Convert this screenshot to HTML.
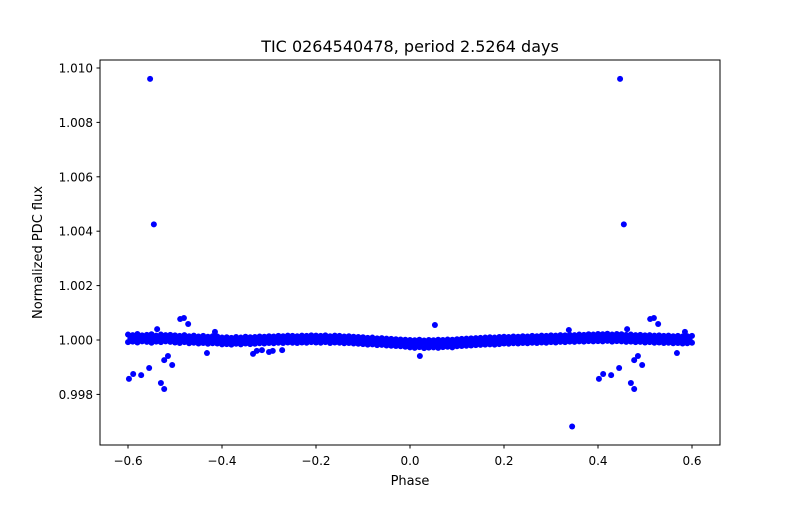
<!DOCTYPE html>
<html><head><meta charset="utf-8"><style>
body{margin:0;background:#fff}
text{font-family:"DejaVu Sans","Liberation Sans",sans-serif;fill:#000}
</style></head><body>
<svg id="chart" width="800" height="500" viewBox="0 0 800 500" xmlns="http://www.w3.org/2000/svg">
<rect width="800" height="500" fill="#fff"/>
<text x="410" y="52" text-anchor="middle" font-size="16">TIC 0264540478, period 2.5264 days</text>
<g id="marks"></g>
<g id="xticks"></g>
<g id="yticks"></g>
<rect x="100" y="60" width="620" height="385" fill="none" stroke="#000" stroke-width="1"/>
<text x="410" y="485" text-anchor="middle" font-size="13">Phase</text>
<text transform="translate(42,252.5) rotate(-90)" text-anchor="middle" font-size="13">Normalized PDC flux</text>
</svg>
<script>
const upperDev=[20,18,22,17,19,21,16,20,18,19,17,15,18,14,16,13,15,12,14,13,9,10,8,11,9,12,10,11,13,12,14,13,15,14,16,15,14,16,15,17,16,15,17,14,16,15,13,14,12,11,10,8,9,6,7,5,4,3,2,1,0,-1,1,-2,0,-1,1,0,2,1,3,4,5,6,7,8,9,10,9,11,12,11,13,12,14,13,15,14,16,15,17,16,18,17,19,18,20,19,21,20,22,21,23,20,22,21,19,20,18,19,17,18,16,17,15,16,14,15,13,14,15];
const lowerDev=[-8,-6,-9,-5,-7,-10,-6,-8,-5,-7,-9,-11,-8,-12,-10,-13,-11,-14,-12,-13,-16,-15,-17,-14,-16,-13,-15,-14,-12,-13,-11,-12,-10,-11,-9,-10,-11,-9,-10,-8,-9,-10,-8,-11,-9,-10,-12,-11,-13,-14,-15,-17,-16,-19,-18,-20,-21,-22,-23,-25,-27,-29,-26,-30,-28,-27,-29,-26,-25,-27,-23,-22,-21,-20,-19,-18,-17,-16,-17,-15,-13,-14,-12,-13,-11,-12,-10,-11,-9,-10,-8,-9,-7,-8,-6,-7,-5,-6,-4,-5,-4,-5,-3,-6,-4,-5,-7,-6,-8,-7,-9,-8,-10,-9,-11,-10,-12,-11,-13,-12,-10];
const midDev=[6,5,7,4,6,5,3,6,4,5,3,2,4,1,3,0,2,-1,1,0,-3,-2,-4,-1,-3,0,-2,-1,1,0,2,1,3,2,4,3,2,4,3,5,4,3,5,2,4,3,1,2,0,-1,-2,-4,-3,-6,-5,-7,-8,-9,-10,-12,-13,-14,-12,-15,-14,-13,-15,-12,-11,-13,-10,-9,-8,-7,-6,-5,-4,-3,-4,-2,-1,-1,0,0,1,0,2,1,3,2,4,3,5,4,6,5,7,6,8,7,9,8,10,7,9,8,6,7,5,6,4,5,3,4,2,3,1,2,0,1];
const outlierPhase=[-0.553,0.447,-0.545,0.455,0.345,0.053,-0.598,-0.589,-0.572,-0.555,-0.538,-0.530,-0.523,-0.523,-0.515,-0.506,-0.489,-0.481,-0.472,-0.432,-0.415,-0.334,-0.326,-0.315,-0.300,-0.292,-0.272,0.021,0.402,0.411,0.428,0.445,0.462,0.470,0.477,0.477,0.485,0.494,0.511,0.519,0.528,0.568,0.585,0.338];
const outlierFlux=[1.0096,1.0096,1.00425,1.00425,0.99682,1.00055,0.99857,0.99875,0.99871,0.99897,1.0004,0.99842,0.9982,0.99926,0.99941,0.99908,1.00077,1.00081,1.00059,0.99952,1.0003,0.99949,0.9996,0.99963,0.99956,0.9996,0.99963,0.99941,0.99857,0.99875,0.99871,0.99897,1.0004,0.99842,0.9982,0.99926,0.99941,0.99908,1.00077,1.00081,1.00059,0.99952,1.0003,1.00037];
const xTicks=[-0.6,-0.4,-0.2,0.0,0.2,0.4,0.6];
const xTickLabels=["\u22120.6","\u22120.4","\u22120.2","0.0","0.2","0.4","0.6"];
const yTicks=[0.998,1.000,1.002,1.004,1.006,1.008,1.010];
const yTickLabels=["0.998","1.000","1.002","1.004","1.006","1.008","1.010"];

const X0=-0.6596,X1=0.6596,Y0=0.996140,Y1=1.010294;
function xs(p){return 100+(p-X0)/(X1-X0)*620;}
function ys(f){return 445-(f-Y0)/(Y1-Y0)*385;}
const NS="http://www.w3.org/2000/svg";
const marks=document.getElementById('marks');
function dot(p,f){
  const c=document.createElementNS(NS,'circle');
  c.setAttribute('cx',xs(p).toFixed(2));c.setAttribute('cy',ys(f).toFixed(2));
  c.setAttribute('r','3');c.setAttribute('fill','#0000ff');
  
  
  marks.appendChild(c);
}
upperDev.forEach((d,i)=>dot(-0.6+0.01*i,1+d*1e-5));
lowerDev.forEach((d,i)=>dot(-0.6+0.01*i,1+d*1e-5));
midDev.forEach((d,i)=>dot(-0.595+0.01*i,1+d*1e-5));
outlierPhase.forEach((p,i)=>dot(p,outlierFlux[i]));

const xg=document.getElementById('xticks');
xTicks.forEach((t,i)=>{
  const x=xs(t);
  const l=document.createElementNS(NS,'line');
  l.setAttribute('x1',x);l.setAttribute('x2',x);l.setAttribute('y1',445);l.setAttribute('y2',448.5);l.setAttribute('stroke','#000');
  
  
  xg.appendChild(l);
  const tx=document.createElementNS(NS,'text');
  tx.setAttribute('x',x);tx.setAttribute('y',465);tx.setAttribute('text-anchor','middle');tx.setAttribute('font-size','12');
  tx.textContent=xTickLabels[i];
  
  
  xg.appendChild(tx);
});
const yg=document.getElementById('yticks');
yTicks.forEach((t,i)=>{
  const y=ys(t);
  const l=document.createElementNS(NS,'line');
  l.setAttribute('x1',96.5);l.setAttribute('x2',100);l.setAttribute('y1',y);l.setAttribute('y2',y);l.setAttribute('stroke','#000');
  
  
  yg.appendChild(l);
  const tx=document.createElementNS(NS,'text');
  tx.setAttribute('x',93);tx.setAttribute('y',y+4.5);tx.setAttribute('text-anchor','end');tx.setAttribute('font-size','12');
  tx.textContent=yTickLabels[i];
  
  
  yg.appendChild(tx);
});
</script>
</body></html>
